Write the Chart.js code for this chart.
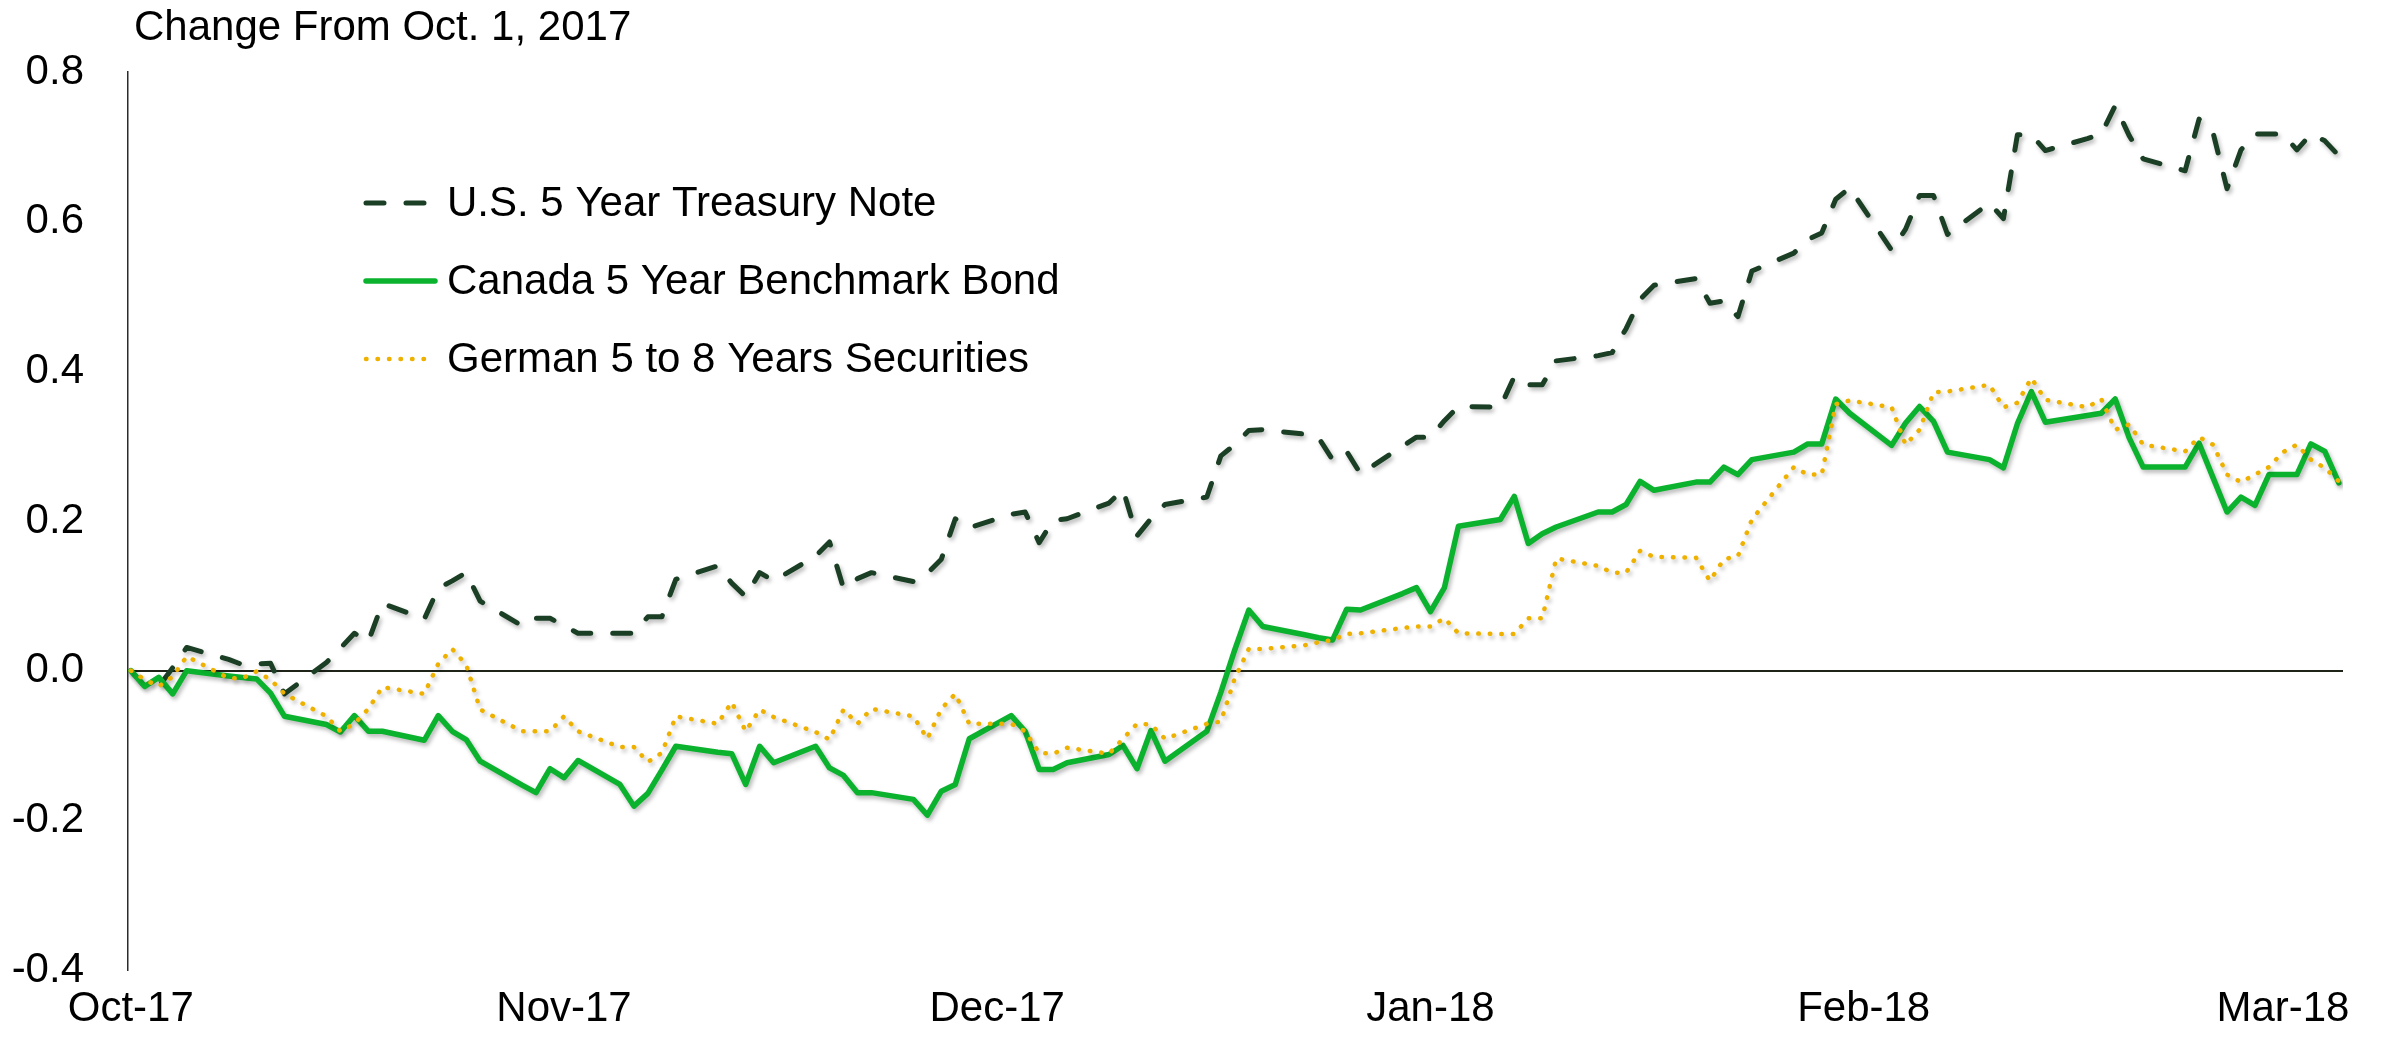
<!DOCTYPE html>
<html>
<head>
<meta charset="utf-8">
<title>Change From Oct. 1, 2017</title>
<script src="https://cdn.jsdelivr.net/npm/chart.js@4.4.1/dist/chart.umd.min.js"></script>
<style>
    html, body { margin: 0; padding: 0; background: #fff; }
    canvas { display: block; }
</style>
</head>
<body>
<canvas id="graficoBonos" width="2392" height="1043"></canvas>
<script>
// trading days, counted in calendar days after Oct. 2, 2017
const tradingDays = [
    0, 1, 2, 3, 4,
    7, 8, 9, 10, 11,
    14, 15, 16, 17, 18,
    21, 22, 23, 24, 25,
    28, 29, 30, 31, 32,
    35, 36, 37, 38, 39,
    42, 43, 44, 45, 46,
    49, 50, 51, 52, 53,
    56, 57, 58, 59, 60,
    63, 64, 65, 66, 67,
    70, 71, 72, 73, 74,
    77, 78, 79, 80, 81,
    84, 85, 86, 87, 88,
    91, 92, 93, 94, 95,
    98, 99, 100, 101, 102,
    105, 106, 107, 108, 109,
    112, 113, 114, 115, 116,
    119, 120, 121, 122, 123,
    126, 127, 128, 129, 130,
    133, 134, 135, 136, 137,
    140, 141, 142, 143, 144,
    147, 148, 149, 150, 151,
    152, 153, 154, 155, 156, 157, 158,
];

const usNote = [
    0.000, -0.021, -0.021, 0.004, 0.031,
    0.015, 0.008, 0.009, 0.010, -0.031,
    0.011, 0.030, 0.050, 0.039, 0.090,
    0.069, 0.110, 0.120, 0.131, 0.093,
    0.060, 0.070, 0.070, 0.060, 0.050,
    0.050, 0.050, 0.072, 0.072, 0.122,
    0.140, 0.117, 0.099, 0.131, 0.120,
    0.153, 0.172, 0.110, 0.123, 0.131,
    0.119, 0.130, 0.149, 0.203, 0.191,
    0.209, 0.212, 0.171, 0.201, 0.203,
    0.224, 0.242, 0.180, 0.203, 0.222,
    0.232, 0.287, 0.302, 0.321, 0.322,
    0.316, 0.311, 0.282, 0.293, 0.263,
    0.300, 0.312, 0.312, 0.334, 0.353,
    0.352, 0.393, 0.382, 0.382, 0.414,
    0.421, 0.425, 0.457, 0.496, 0.515,
    0.524, 0.491, 0.494, 0.473, 0.534,
    0.558, 0.576, 0.585, 0.630, 0.645,
    0.562, 0.590, 0.635, 0.635, 0.583,
    0.625, 0.604, 0.716, 0.716, 0.695,
    0.711, 0.717, 0.755, 0.715, 0.684,
    0.668, 0.737, 0.719, 0.644, 0.696,
    0.717, 0.717, 0.717, 0.696, 0.717, 0.708, 0.688,
];

const canadaBond = [
    0.000, -0.021, -0.009, -0.031, 0.000,
    -0.007, -0.009, -0.011, -0.030, -0.061,
    -0.072, -0.082, -0.060, -0.081, -0.081,
    -0.093, -0.060, -0.081, -0.092, -0.121,
    -0.153, -0.163, -0.131, -0.143, -0.120,
    -0.152, -0.181, -0.164, -0.133, -0.101,
    -0.109, -0.111, -0.152, -0.101, -0.123,
    -0.101, -0.130, -0.140, -0.163, -0.163,
    -0.172, -0.193, -0.161, -0.152, -0.091,
    -0.060, -0.081, -0.132, -0.132, -0.123,
    -0.112, -0.100, -0.131, -0.080, -0.121,
    -0.081, -0.029, 0.028, 0.081, 0.059,
    0.048, 0.044, 0.041, 0.082, 0.081,
    0.103, 0.111, 0.079, 0.111, 0.193,
    0.202, 0.233, 0.170, 0.183, 0.192,
    0.212, 0.212, 0.222, 0.253, 0.241,
    0.252, 0.252, 0.272, 0.262, 0.282,
    0.292, 0.303, 0.303, 0.363, 0.344,
    0.301, 0.331, 0.353, 0.333, 0.292,
    0.282, 0.271, 0.330, 0.373, 0.332,
    0.341, 0.344, 0.363, 0.311, 0.272,
    0.272, 0.304, 0.258, 0.212, 0.232,
    0.221, 0.262, 0.262, 0.262, 0.303, 0.293, 0.251,
];

const germanSecurities = [
    0.000, -0.012, -0.021, -0.008, 0.019,
    -0.010, -0.010, -0.001, -0.012, -0.031,
    -0.061, -0.081, -0.071, -0.051, -0.022,
    -0.031, 0.009, 0.029, 0.008, -0.052,
    -0.081, -0.081, -0.081, -0.061, -0.081,
    -0.102, -0.102, -0.122, -0.110, -0.061,
    -0.071, -0.042, -0.081, -0.052, -0.062,
    -0.082, -0.092, -0.052, -0.071, -0.051,
    -0.061, -0.091, -0.051, -0.031, -0.071,
    -0.071, -0.081, -0.110, -0.111, -0.103,
    -0.111, -0.091, -0.071, -0.072, -0.091,
    -0.071, -0.068, -0.010, 0.029, 0.029,
    0.034, 0.038, 0.041, 0.049, 0.050,
    0.057, 0.059, 0.059, 0.070, 0.050,
    0.049, 0.049, 0.070, 0.070, 0.150,
    0.140, 0.131, 0.131, 0.160, 0.152,
    0.151, 0.120, 0.149, 0.153, 0.202,
    0.272, 0.262, 0.262, 0.356, 0.361,
    0.352, 0.302, 0.322, 0.372, 0.373,
    0.382, 0.352, 0.358, 0.391, 0.362,
    0.352, 0.363, 0.322, 0.329, 0.302,
    0.293, 0.312, 0.302, 0.262, 0.252,
    0.262, 0.272, 0.292, 0.302, 0.282, 0.271, 0.253,
];

const seriesNames = [
    "U.S. 5 Year Treasury Note",
    "Canada 5 Year Benchmark Bond",
    "German 5 to 8 Years Securities",
];
const monthLabels = ["Oct-17", "Nov-17", "Dec-17", "Jan-18", "Feb-18", "Mar-18"];
const monthTickDays = [0, 31, 62, 93, 124, 154];
const yTicks = [-0.4, -0.2, 0, 0.2, 0.4, 0.6, 0.8];
const chartTitle = "Change From Oct. 1, 2017";

const FONT = '"Liberation Sans", Arial, sans-serif';
const ctx = document.getElementById("graficoBonos").getContext("2d");

const toPoints = (values) => tradingDays.map((d, i) => ({ x: d, y: values[i] }));

// soft drop shadow under each line, like the original
const lineShadow = {
    id: "lineShadow",
    beforeDatasetDraw(chart) {
        const c = chart.ctx;
        c.save();
        c.shadowColor = "rgba(0, 0, 0, 0.28)";
        c.shadowBlur = 4;
        c.shadowOffsetX = 2;
        c.shadowOffsetY = 3;
    },
    afterDatasetDraw(chart) {
        chart.ctx.restore();
    },
};

// title above the axis and the legend inside the plot
const titleAndLegend = {
    id: "titleAndLegend",
    afterDraw(chart) {
        const { ctx: c, chartArea } = chart;
        c.save();
        c.font = `42px ${FONT}`;
        c.fillStyle = "#000";
        c.textBaseline = "middle";
        c.fillText(chartTitle, chartArea.left + 6, 28);

        chart.data.datasets.forEach((ds, i) => {
            const y = chartArea.top + 131 + i * 78;
            const x0 = chartArea.left + 238;
            c.save();
            c.strokeStyle = ds.borderColor;
            c.lineWidth = ds.borderWidth;
            c.lineCap = ds.borderCapStyle || "butt";
            c.setLineDash(ds.borderDash || []);
            c.beginPath();
            c.moveTo(x0, y);
            c.lineTo(x0 + 69, y);
            c.stroke();
            c.restore();
            c.fillText(ds.label, x0 + 81, y + 1);
        });
        c.restore();
    },
};

new Chart(ctx, {
    type: "line",
    data: {
        datasets: [
            {
                label: seriesNames[0],
                data: toPoints(usNote),
                borderColor: "#1A3F24",
                borderWidth: 5,
                borderDash: [18, 22],
                borderCapStyle: "round",
                borderJoinStyle: "round",
                pointRadius: 0,
                tension: 0,
                fill: false,
                order: 3,
            },
            {
                label: seriesNames[1],
                data: toPoints(canadaBond),
                borderColor: "#0AB22D",
                borderWidth: 5.5,
                borderCapStyle: "round",
                borderJoinStyle: "round",
                pointRadius: 0,
                tension: 0,
                fill: false,
                order: 2,
            },
            {
                label: seriesNames[2],
                data: toPoints(germanSecurities),
                borderColor: "#EEB100",
                borderWidth: 4.5,
                borderDash: [0.5, 11],
                borderCapStyle: "round",
                borderJoinStyle: "round",
                pointRadius: 0,
                tension: 0,
                fill: false,
                order: 1,
            },
        ],
    },
    options: {
        responsive: false,
        animation: false,
        events: [],
        layout: {
            padding: { top: 72, right: 49, bottom: 0, left: 0 },
        },
        plugins: {
            legend: { display: false },
            tooltip: { enabled: false },
        },
        scales: {
            x: {
                type: "linear",
                min: -0.2,
                max: 158.3,
                border: { display: false },
                grid: { display: false, drawTicks: false },
                afterBuildTicks: (scale) => {
                    scale.ticks = monthTickDays.map((v) => ({ value: v }));
                },
                ticks: {
                    autoSkip: false,
                    maxRotation: 0,
                    padding: 14,
                    color: "#000",
                    font: { family: FONT, size: 42 },
                    callback: (value, index) => monthLabels[index],
                },
                afterFit: (scale) => {
                    scale.height = 73;
                },
            },
            y: {
                min: -0.4,
                max: 0.8,
                border: { display: true, color: "#2b2b2b", width: 1.5 },
                grid: {
                    drawTicks: false,
                    lineWidth: 2,
                    color: (c) => (c.tick && c.tick.value === 0 ? "#1e2418" : "rgba(0,0,0,0)"),
                },
                afterBuildTicks: (scale) => {
                    scale.ticks = yTicks.map((v) => ({ value: v }));
                },
                ticks: {
                    padding: 44,
                    color: "#000",
                    font: { family: FONT, size: 42 },
                    callback: (value) => value.toFixed(1),
                },
                afterFit: (scale) => {
                    scale.width = 128;
                },
            },
        },
    },
    plugins: [lineShadow, titleAndLegend],
});
</script>
</body>
</html>
